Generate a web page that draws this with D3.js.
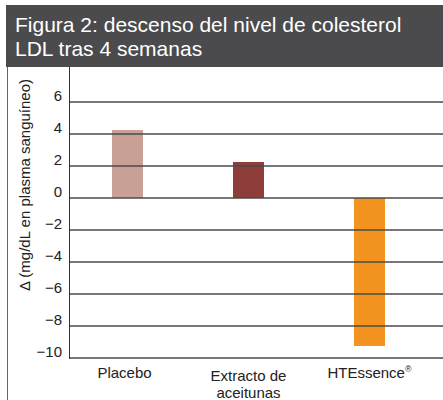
<!DOCTYPE html>
<html>
<head>
<meta charset="utf-8">
<script src="https://cdn.jsdelivr.net/npm/d3@7"></script>
<style>
  body { margin: 0; background: #fff; }
  svg { display: block; font-family: "Liberation Sans", Arial, sans-serif; }
</style>
</head>
<body>
<div id="chart"></div>
<script>
// chart values
const categories = ["Placebo", "Extracto de aceitunas", "HTEssence®"]
const values = [4.25, 2.25, -9.25]
const colors = ["#c8a096", "#8f3d3b", "#f39420"]
const yTicks = [6, 4, 2, 0, -2, -4, -6, -8, -10]
const titleLines = ["Figura 2: descenso del nivel de colesterol", "LDL tras 4 semanas"]
const yTitle = "Δ (mg/dL en plasma sanguíneo)"

const W = 443, H = 400

const svg = d3.select("#chart").append("svg")
  .attr("width", W)
  .attr("height", H)

// title bar
svg.append("rect")
  .attr("x", 6).attr("y", 5)
  .attr("width", 437).attr("height", 62)
  .attr("fill", "#4b4b4d")

svg.append("g").selectAll("text")
  .data(titleLines)
  .join("text")
  .attr("x", 15)
  .attr("y", (d, i) => 32 + i * 24)
  .attr("fill", "#fff")
  .attr("font-size", 21)
  .text(d => d)

// left frame line
svg.append("line")
  .attr("x1", 7.5).attr("x2", 7.5)
  .attr("y1", 67).attr("y2", 400)
  .attr("stroke", "#666").attr("stroke-width", 1)

var y = d3.scaleLinear()
  .domain([-10, 6])
  .range([358, 102])

var x = d3.scaleBand()
  .domain(categories)
  .range([67, 430])
  .paddingInner(0.744)
  .paddingOuter(0.372)

// bars
svg.append("g").selectAll("rect")
  .data(values)
  .join("rect")
  .attr("x", (d, i) => x(categories[i]))
  .attr("width", x.bandwidth())
  .attr("y", d => y(Math.max(0, d)))
  .attr("height", d => Math.abs(y(d) - y(0)))
  .attr("fill", (d, i) => colors[i])

// gridlines on top of bars
svg.append("g").selectAll("line")
  .data(yTicks)
  .join("line")
  .attr("x1", 69).attr("x2", W)
  .attr("y1", d => y(d)).attr("y2", d => y(d))
  .attr("stroke", "#4a4a4a")
  .attr("stroke-width", 1.5)

// y axis line
svg.append("line")
  .attr("x1", 69.5).attr("x2", 69.5)
  .attr("y1", 67).attr("y2", 359)
  .attr("stroke", "#333").attr("stroke-width", 1)

// y tick labels
const fmt = d => d < 0 ? "\u2212" + Math.abs(d) : String(d)
svg.append("g").selectAll("text")
  .data(yTicks)
  .join("text")
  .attr("x", 62)
  .attr("y", d => y(d))
  .attr("dy", "-0.1em")
  .attr("text-anchor", "end")
  .attr("font-size", 15)
  .attr("fill", "#222")
  .text(fmt)

// y axis title
svg.append("text")
  .attr("transform", "translate(30,185) rotate(-90)")
  .attr("text-anchor", "middle")
  .attr("font-size", 15)
  .attr("fill", "#222")
  .text(yTitle)

// x labels, wrapped
const xLabels = [["Placebo"], ["Extracto de", "aceitunas"], ["HTEssence", "®"]]
categories.forEach(function(c, i) {
  const cx = x(c) + x.bandwidth() / 2
  const t = svg.append("text")
    .attr("x", i == 0 ? cx - 3 : cx)
    .attr("y", i == 1 ? 381 : 378)
    .attr("text-anchor", "middle")
    .attr("font-size", 15)
    .attr("fill", "#222")
  if (i == 2) {
    t.append("tspan").text("HTEssence")
    t.append("tspan").attr("font-size", 9).attr("dy", -6).text("®")
  } else {
    xLabels[i].forEach(function(line, j) {
      t.append("tspan")
        .attr("x", i == 0 ? cx - 3 : cx)
        .attr("dy", j == 0 ? 0 : 17)
        .text(line)
    })
  }
})
</script>
</body>
</html>
